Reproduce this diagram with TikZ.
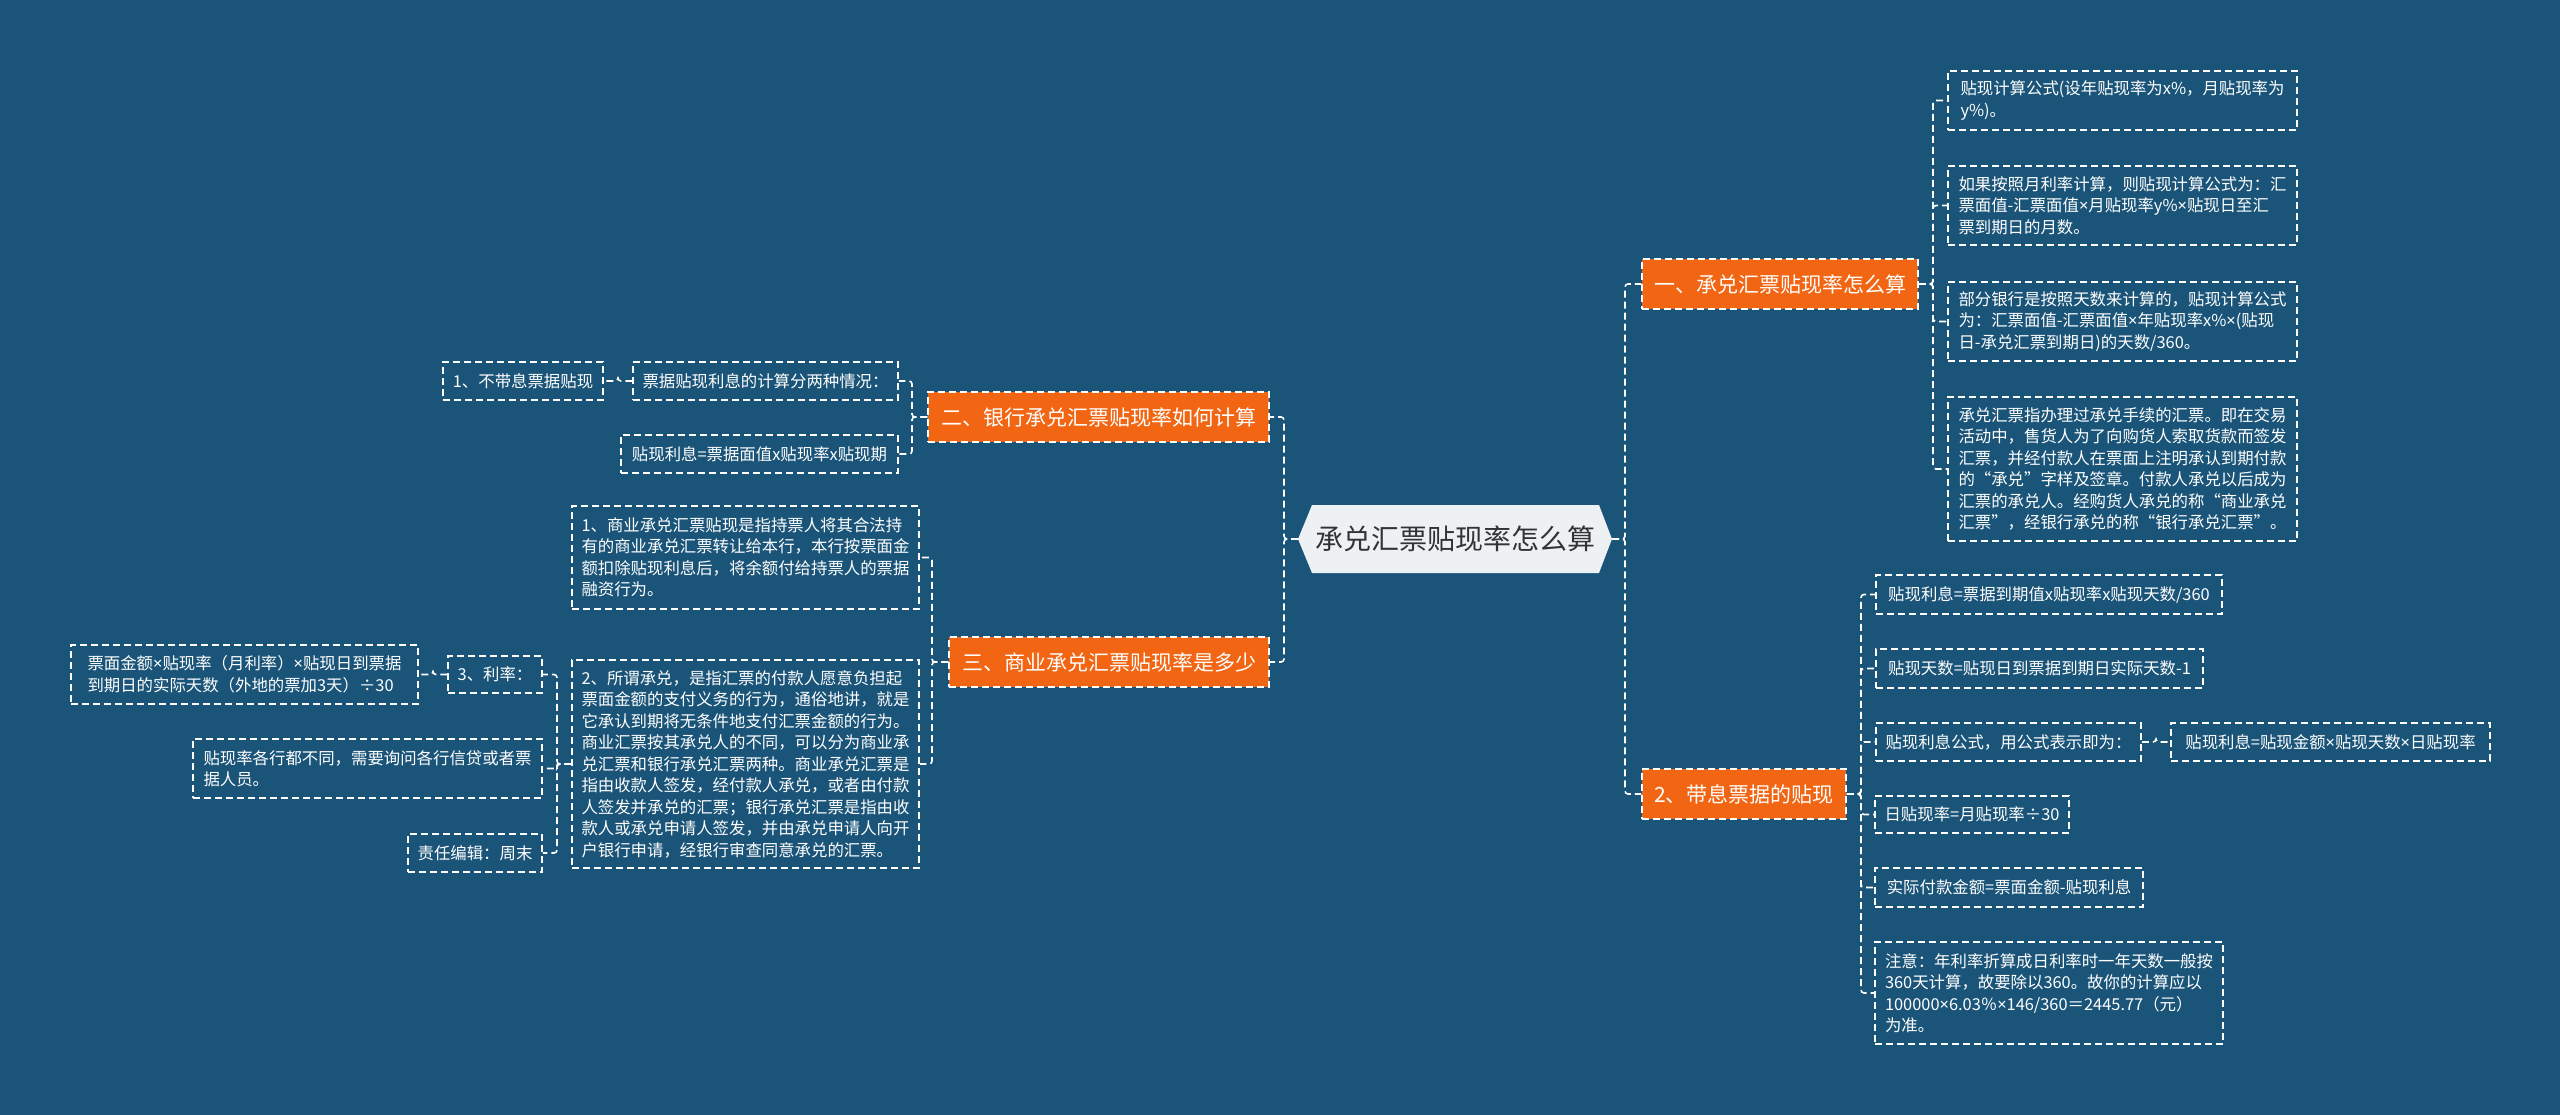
\documentclass[tikz,border=0pt]{standalone}
\usepackage{fontspec}
\setmainfont{Noto Sans CJK SC}
\newfontfamily\latinfont{Noto Sans}
\newcommand{\xmul}{{\latinfont ×}}
\definecolor{bgblue}{RGB}{26,84,120}
\definecolor{orng}{RGB}{242,101,18}
\definecolor{cfill}{RGB}{238,241,243}
\definecolor{ctext}{RGB}{51,51,51}
\tikzset{
  dsh/.style={dash pattern=on 7pt off 4pt},
  leaf/.style={draw=white, line width=1.5pt, dsh, text=white, align=left, inner sep=0pt,
    font=\fontsize{16.4}{21.5}\selectfont},
  topic/.style={fill=orng, draw=white, line width=1.5pt, dsh, text=white, inner sep=0pt,
    font=\fontsize{21}{26}\selectfont},
  conn/.style={draw=white, line width=1.6pt, dsh, rounded corners=3pt},
}
\begin{document}
\begin{tikzpicture}[x=1pt,y=-1pt]
\fill[bgblue] (0,0) rectangle (2560,1115);
\path[use as bounding box] (0,0) rectangle (2560,1115);

% central hexagon
\fill[cfill] (1312,505) -- (1599,505) -- (1612,539) -- (1599,573) -- (1312,573) -- (1298,539) -- cycle;
\node[text=ctext, font=\fontsize{28}{32}\selectfont, inner sep=0pt] (C) at (1455,539) {承兑汇票贴现率怎么算};
\coordinate (Cl) at (1298,539);
\coordinate (Cr) at (1612,539);

% bus coordinates
\coordinate (busR) at (1625,0);
\coordinate (busL) at (1284,0);
\coordinate (bus1) at (1933,0);
\coordinate (bus2) at (1861,0);
\coordinate (bus3) at (912,0);
\coordinate (bus4) at (932,0);
\coordinate (bus5) at (557,0);
\coordinate (busKM) at (618,0);
\coordinate (busPS) at (433,0);
\coordinate (busG) at (2156,0);

% topics
\node[topic, minimum width=276pt, minimum height=50pt] (T1) at (1780,284) {一、承兑汇票贴现率怎么算};
\node[topic, minimum width=204pt, minimum height=50pt] (T2) at (1744,794) {2、带息票据的贴现};
\node[topic, minimum width=341pt, minimum height=50pt] (T3) at (1098.5,417) {二、银行承兑汇票贴现率如何计算};
\node[topic, minimum width=320pt, minimum height=50pt] (T4) at (1109,662) {三、商业承兑汇票贴现率是多少};

% right: children of T1
\node[leaf, minimum width=349pt, minimum height=59pt] (A) at (2122.5,100.5) {贴现计算公式(设年贴现率为x\%，月贴现率为\\y\%)。};
\node[leaf, minimum width=349pt, minimum height=79pt] (B) at (2122.5,205.5) {如果按照月利率计算，则贴现计算公式为：汇\\票面值-汇票面值\xmul 月贴现率y\%\xmul 贴现日至汇\\票到期日的月数。};
\node[leaf, minimum width=349pt, minimum height=79pt] (Cc) at (2122.5,321.5) {部分银行是按照天数来计算的，贴现计算公式\\为：汇票面值-汇票面值\xmul 年贴现率x\%\xmul(贴现\\日-承兑汇票到期日)的天数/360。};
\node[leaf, minimum width=349pt, minimum height=144pt] (D) at (2122.5,469) {承兑汇票指办理过承兑手续的汇票。即在交易\\活动中，售货人为了向购货人索取货款而签发\\汇票，并经付款人在票面上注明承认到期付款\\的“承兑”字样及签章。付款人承兑以后成为\\汇票的承兑人。经购货人承兑的称“商业承兑\\汇票”，经银行承兑的称“银行承兑汇票”。};

% right: children of T2
\node[leaf, minimum width=346pt, minimum height=39pt] (E) at (2049,594.5) {贴现利息=票据到期值x贴现率x贴现天数/360};
\node[leaf, minimum width=327pt, minimum height=39pt] (F) at (2039.5,668.5) {贴现天数=贴现日到票据到期日实际天数-1};
\node[leaf, minimum width=265pt, minimum height=38pt] (G) at (2008.5,742) {贴现利息公式，用公式表示即为：};
\node[leaf, minimum width=319pt, minimum height=38pt] (G2) at (2330.5,742) {贴现利息=贴现金额\xmul 贴现天数\xmul 日贴现率};
\node[leaf, minimum width=194pt, minimum height=37pt] (H) at (1972,814.5) {日贴现率=月贴现率÷30};
\node[leaf, minimum width=268pt, minimum height=39pt] (I) at (2009,887.5) {实际付款金额=票面金额-贴现利息};
\node[leaf, minimum width=348pt, minimum height=102pt] (J) at (2049,993) {注意：年利率折算成日利率时一年天数一般按\\360天计算，故要除以360。故你的计算应以\\100000\xmul 6.03％\xmul 146/360＝2445.77（元）\\为准。};

% left: children of T3
\node[leaf, minimum width=265pt, minimum height=38pt] (K) at (765.5,381) {票据贴现利息的计算分两种情况：};
\node[leaf, minimum width=277pt, minimum height=38pt] (L) at (759.5,454) {贴现利息=票据面值x贴现率x贴现期};
\node[leaf, minimum width=160pt, minimum height=38pt] (M) at (523,381) {1、不带息票据贴现};

% left: children of T4
\node[leaf, minimum width=347pt, minimum height=103pt] (N) at (745.5,557.5) {1、商业承兑汇票贴现是指持票人将其合法持\\有的商业承兑汇票转让给本行，本行按票面金\\额扣除贴现利息后，将余额付给持票人的票据\\融资行为。};
\node[leaf, minimum width=347pt, minimum height=208pt] (O) at (745.5,764) {2、所谓承兑，是指汇票的付款人愿意负担起\\票面金额的支付义务的行为，通俗地讲，就是\\它承认到期将无条件地支付汇票金额的行为。\\商业汇票按其承兑人的不同，可以分为商业承\\兑汇票和银行承兑汇票两种。商业承兑汇票是\\指由收款人签发，经付款人承兑，或者由付款\\人签发并承兑的汇票；银行承兑汇票是指由收\\款人或承兑申请人签发，并由承兑申请人向开\\户银行申请，经银行审查同意承兑的汇票。};

% children of O
\node[leaf, minimum width=94pt, minimum height=37pt] (P) at (495,674.5) {3、利率：};
\node[leaf, minimum width=349pt, minimum height=59pt] (Q) at (367.5,768.5) {贴现率各行都不同，需要询问各行信贷或者票\\据人员。};
\node[leaf, minimum width=134pt, minimum height=38pt] (R) at (475,853) {责任编辑：周末};
\node[leaf, minimum width=347pt, minimum height=59pt] (S) at (244.5,674.5) {票面金额\xmul 贴现率（月利率）\xmul 贴现日到票据\\到期日的实际天数（外地的票加3天）÷30};

% connectors: center
\draw[conn] (Cr) -- (busR |- Cr) |- (T1.west);
\draw[conn] (Cr) -- (busR |- Cr) |- (T2.west);
\draw[conn] (Cl) -- (busL |- Cl) |- (T3.east);
\draw[conn] (Cl) -- (busL |- Cl) |- (T4.east);

% T1
\foreach \c in {A,B,Cc,D}
  \draw[conn] (T1.east) -- (bus1 |- T1.east) |- (\c.west);
% T2
\foreach \c in {E,F,G,H,I,J}
  \draw[conn] (T2.east) -- (bus2 |- T2.east) |- (\c.west);
\draw[conn] (G.east) -- (busG |- G.east) |- (G2.west);
% T3
\foreach \c in {K,L}
  \draw[conn] (T3.west) -- (bus3 |- T3.west) |- (\c.east);
\draw[conn] (K.west) -- (busKM |- K.west) |- (M.east);
% T4
\foreach \c in {N,O}
  \draw[conn] (T4.west) -- (bus4 |- T4.west) |- (\c.east);
% O
\foreach \c in {P,Q,R}
  \draw[conn] (O.west) -- (bus5 |- O.west) |- (\c.east);
\draw[conn] (P.west) -- (busPS |- P.west) |- (S.east);
\end{tikzpicture}
\end{document}
